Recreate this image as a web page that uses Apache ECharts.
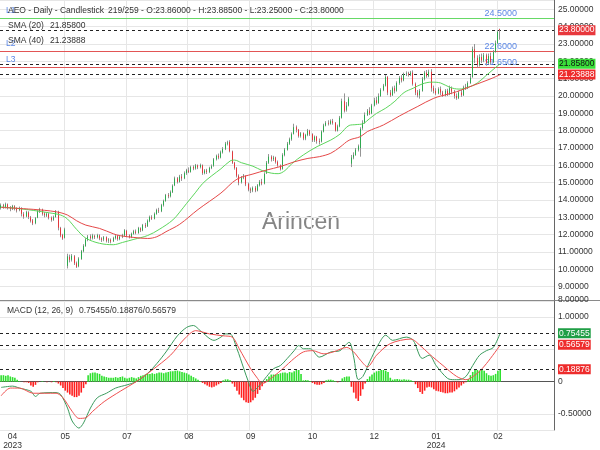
<!DOCTYPE html>
<html><head><meta charset="utf-8">
<script src="https://cdn.jsdelivr.net/npm/echarts@6/dist/echarts.min.js"></script>
<style>html,body{margin:0;padding:0;background:#fff}#c{width:600px;height:450px}</style>
</head><body><div id="c"></div><script>
const symbolName = 'AEO', period = 'Daily', totalBars = 259;
const slotCount = 242;
const categories = Array.from({length: slotCount}, (_, i) => String(i));
const xTickIdx = [5, 28, 55, 82, 109, 136, 163, 190, 217];
const xTickText = ['04\n2023', '05', '07', '08', '09', '10', '12', '01\n2024', '02'];

// [open, close, low, high]
const candles = [
[13.55,13.70,13.45,13.80],[13.70,13.62,13.50,13.78],[13.60,13.75,13.52,13.85],[13.75,13.58,13.45,13.80],[13.55,13.48,13.35,13.65],
[13.50,13.66,13.42,13.72],[13.64,13.52,13.40,13.70],[13.50,13.40,13.28,13.58],[13.42,13.55,13.35,13.62],[13.52,13.20,13.05,13.58],
[13.18,13.05,12.92,13.30],[13.05,13.30,13.00,13.38],[13.28,13.02,12.90,13.35],[13.00,12.80,12.70,13.08],[12.82,12.65,12.55,12.90],
[12.66,12.95,12.60,13.02],[12.98,13.35,12.95,13.42],[13.35,13.48,13.25,13.55],[13.45,13.20,13.10,13.50],[13.22,13.12,13.00,13.30],
[13.10,13.20,13.02,13.28],[13.18,12.98,12.88,13.25],[12.98,12.85,12.75,13.05],[12.86,13.00,12.80,13.10],[13.02,13.35,12.98,13.42],
[13.32,12.40,12.25,13.38],[12.38,11.95,11.85,12.45],[11.98,11.78,11.70,12.05],[11.82,12.30,11.78,12.40],[10.20,10.75,10.05,10.90],
[10.72,10.55,10.40,10.85],[10.55,10.78,10.45,10.88],[10.75,10.35,10.25,10.82],[10.35,10.15,10.08,10.45],[10.18,10.62,10.12,10.70],
[10.60,11.05,10.55,11.12],[11.05,11.35,10.98,11.45],[11.35,11.72,11.30,11.80],[11.70,11.88,11.62,11.98],[11.90,11.80,11.70,12.02],
[11.80,11.95,11.72,12.05],[11.92,11.85,11.75,12.00],[11.85,11.98,11.78,12.05],[11.95,11.78,11.68,12.02],[11.78,11.70,11.58,11.85],
[11.72,11.85,11.62,11.92],[11.85,11.65,11.55,11.90],[11.66,11.72,11.52,11.80],[11.70,11.60,11.50,11.78],[11.62,11.80,11.58,11.88],
[11.80,11.92,11.72,12.02],[11.92,11.75,11.65,11.98],[11.76,11.88,11.68,11.95],[11.88,11.95,11.80,12.05],[11.95,12.25,11.90,12.32],
[12.22,11.95,11.85,12.28],[11.95,11.85,11.78,12.02],[11.86,12.05,11.80,12.12],[12.05,12.20,12.00,12.28],[12.18,12.10,12.02,12.30],
[12.10,12.38,12.05,12.45],[12.36,12.25,12.15,12.42],[12.25,12.55,12.20,12.62],[12.55,12.48,12.38,12.68],[12.48,12.80,12.45,12.88],
[12.80,13.02,12.72,13.10],[13.00,12.92,12.85,13.12],[12.92,13.20,12.88,13.28],[13.20,13.42,13.15,13.50],[13.40,13.35,13.25,13.55],
[13.35,13.70,13.30,13.78],[13.70,13.95,13.62,14.02],[13.95,14.28,13.90,14.35],[14.28,14.22,14.10,14.40],[14.22,14.45,14.15,14.55],
[14.45,14.82,14.40,14.90],[14.85,15.25,14.80,15.35],[15.25,15.05,14.95,15.32],[15.05,15.35,15.00,15.45],[15.35,15.25,15.10,15.50],
[15.25,15.55,15.20,15.65],[15.55,15.72,15.45,15.80],[15.70,15.62,15.55,15.88],[15.62,15.90,15.58,15.98],[15.90,15.82,15.72,16.00],
[15.82,16.00,15.75,16.08],[16.00,15.88,15.78,16.05],[15.90,16.02,15.82,16.10],[16.00,15.55,15.45,16.05],[15.55,15.70,15.48,15.78],
[15.70,15.62,15.50,15.80],[15.62,15.85,15.55,15.92],[15.85,15.95,15.78,16.05],[15.98,16.35,15.92,16.42],[16.35,16.55,16.28,16.62],
[16.55,16.45,16.35,16.68],[16.45,16.75,16.40,16.85],[16.75,16.95,16.68,17.05],[16.95,17.25,16.88,17.35],[17.25,17.32,17.15,17.42],
[17.35,16.82,16.75,17.45],[16.80,16.15,16.08,16.85],[16.15,15.85,15.75,16.20],[15.85,15.40,15.30,15.90],[15.40,15.00,14.85,15.48],
[15.02,15.30,14.95,15.38],[15.30,15.40,15.20,15.50],[15.38,14.90,14.80,15.42],[14.92,14.60,14.50,15.00],[14.62,14.55,14.40,14.72],
[14.55,14.70,14.45,14.78],[14.70,14.55,14.45,14.80],[14.55,14.85,14.50,14.92],[14.85,15.05,14.78,15.15],[15.05,14.95,14.85,15.22],
[14.95,15.50,14.90,15.60],[15.55,16.15,15.50,16.25],[16.15,16.50,16.08,16.65],[16.50,16.35,16.22,16.58],[16.35,16.45,16.25,16.55],
[16.45,16.20,16.10,16.50],[16.20,16.00,15.92,16.28],[16.00,15.78,15.70,16.05],[15.80,16.60,15.75,16.70],[16.60,16.90,16.52,17.00],
[16.90,17.25,16.85,17.35],[17.25,17.50,17.18,17.60],[17.50,17.80,17.42,17.90],[17.82,18.20,17.78,18.40],[18.20,18.05,17.90,18.30],
[18.05,17.70,17.60,18.10],[17.70,17.85,17.60,17.92],[17.85,17.55,17.45,17.90],[17.55,17.75,17.45,17.82],[17.75,18.00,17.68,18.10],
[18.00,17.80,17.70,18.05],[17.80,17.45,17.35,17.85],[17.45,17.65,17.35,17.72],[17.65,17.40,17.25,17.70],[17.40,17.35,17.20,17.55],
[17.38,17.95,17.32,18.02],[17.95,18.30,17.90,18.40],[18.30,18.45,18.25,18.55],[18.45,18.40,18.30,18.60],[18.40,18.55,18.35,18.65],
[18.55,18.45,18.35,18.68],[18.45,18.00,17.95,18.50],[18.00,18.25,17.95,18.35],[18.25,18.75,18.20,18.85],[18.75,19.70,18.70,19.85],
[19.70,19.15,19.05,20.15],[19.20,19.45,19.10,19.65],[19.45,19.85,19.40,19.95],[16.10,16.45,15.90,16.60],[16.45,16.60,16.35,16.75],
[16.60,16.90,16.55,17.00],[16.90,17.10,16.80,17.20],[17.00,18.10,16.50,18.20],[18.15,18.45,18.05,18.60],[18.45,18.90,18.40,19.05],
[18.90,19.15,18.85,19.25],[19.15,19.00,18.90,19.35],[19.00,19.45,18.95,19.55],[19.45,19.75,19.40,19.90],[19.75,19.60,19.50,19.95],
[19.60,20.00,19.55,20.15],[20.00,20.35,19.95,20.45],[20.35,20.60,20.28,20.70],[20.60,21.10,20.55,21.20],[21.10,20.20,20.05,21.15],
[20.20,20.05,19.95,20.35],[20.05,20.45,20.00,20.55],[20.45,20.30,20.15,20.60],[20.30,20.75,20.25,20.85],[20.75,21.05,20.65,21.15],
[21.05,20.90,20.78,21.20],[20.90,21.25,20.85,21.35],[21.25,21.30,21.15,21.42],[21.30,21.22,21.12,21.40],[21.22,21.35,21.15,21.45],
[21.35,20.70,20.60,21.48],[20.70,20.20,20.05,20.78],[20.20,20.05,19.92,20.35],[20.05,20.30,19.85,20.40],[20.30,21.00,20.25,21.10],
[21.00,21.35,20.90,21.45],[21.35,21.15,21.05,21.50],[21.15,21.40,21.08,21.52],[21.40,20.45,20.25,21.55],[20.45,20.30,20.15,20.60],
[20.30,20.15,20.05,20.45],[20.15,20.40,20.10,20.50],[20.40,20.20,20.05,20.55],[20.20,20.05,19.95,20.30],[20.05,20.30,19.98,20.40],
[20.30,20.10,20.00,20.42],[20.10,20.45,20.05,20.60],[20.45,20.25,20.10,20.55],[20.25,20.00,19.85,20.35],[20.00,19.88,19.78,20.15],
[19.88,20.20,19.82,20.30],[20.20,20.05,19.95,20.35],[20.05,20.50,20.00,20.60],[20.50,20.45,20.35,20.70],[20.45,20.75,20.40,20.85],
[20.75,21.05,20.70,21.20],[21.10,22.70,21.05,22.85],[22.70,22.20,21.90,23.00],[22.20,21.80,21.65,22.35],[21.80,22.25,21.70,22.40],
[22.25,22.05,21.90,22.45],[22.05,22.35,21.95,22.48],[22.35,21.90,21.75,22.45],[21.90,22.30,21.85,22.45],[22.30,21.95,21.80,22.50],
[21.95,22.55,21.90,22.65],[22.55,23.05,22.50,23.20],[23.05,23.70,23.00,23.80],[23.86,23.80,23.25,23.885]
];

// [bar index, value]
const sma20Pts = [[0,13.6],[8,13.5],[14,13.4],[21,13.26],[26,13.13],[29,12.9],[33,12.3],[37,11.8],[43,11.5],[49,11.42],[53,11.55],[58,11.73],[64,11.95],[69,12.3],[75,12.85],[78,13.3],[81,13.8],[85,14.45],[88,14.95],[92,15.4],[96,15.8],[100,16.25],[102,16.3],[105,16.15],[110,15.95],[114,15.7],[118,15.55],[121,15.52],[124,15.7],[127,16.1],[132,16.6],[138,17.08],[144,17.46],[148,17.8],[152,18.3],[155,18.35],[158,18.4],[161,18.7],[164,19.0],[168,19.3],[172,19.7],[176,20.2],[180,20.45],[184,20.7],[188,20.8],[192,20.75],[196,20.5],[200,20.4],[204,20.5],[208,20.75],[212,21.2],[216,21.65],[218,21.858]];
const sma40Pts = [[0,13.57],[14,13.46],[24,13.32],[29,13.13],[33,12.8],[37,12.55],[43,12.36],[49,12.05],[52,11.94],[58,11.84],[64,11.78],[68,11.88],[72,12.17],[78,12.6],[86,13.45],[96,14.4],[103,15.2],[110,15.5],[116,15.73],[122,15.93],[128,16.2],[134,16.4],[139,16.5],[144,16.7],[148,17.05],[152,17.45],[157,17.66],[160,17.95],[167,18.33],[174,18.85],[182,19.4],[189,19.87],[195,20.1],[199,20.25],[206,20.6],[214,21.0],[218,21.23888]];

const macdPts = [[0,-0.09],[5,-0.07],[8,-0.10],[13,-0.15],[15,-0.23],[17,-0.18],[24,-0.17],[26,-0.20],[29,-0.41],[31,-0.61],[34,-0.72],[36,-0.64],[39,-0.41],[42,-0.25],[46,-0.18],[50,-0.10],[55,-0.05],[59,0.0],[64,0.13],[68,0.28],[72,0.46],[77,0.71],[81,0.84],[84,0.87],[87,0.79],[93,0.64],[96,0.69],[98,0.74],[100,0.74],[103,0.51],[106,0.20],[108,0.0],[110,-0.15],[113,-0.05],[116,0.08],[119,0.20],[122,0.25],[125,0.36],[128,0.48],[130,0.56],[132,0.51],[135,0.51],[139,0.38],[144,0.46],[148,0.48],[152,0.61],[154,0.38],[156,0.03],[158,0.08],[161,0.31],[165,0.59],[168,0.72],[171,0.64],[177,0.69],[180,0.64],[184,0.36],[187,0.41],[190,0.25],[195,0.05],[198,0.03],[200,0.03],[203,0.08],[206,0.25],[209,0.41],[212,0.48],[215,0.53],[218,0.75455]];
const signalPts = [[0,-0.22],[4,-0.10],[8,-0.10],[14,-0.18],[24,-0.18],[27,-0.25],[31,-0.46],[34,-0.57],[37,-0.56],[40,-0.46],[45,-0.31],[52,-0.15],[59,0.0],[66,0.18],[74,0.41],[80,0.66],[85,0.79],[91,0.74],[97,0.71],[101,0.69],[104,0.51],[109,0.20],[112,0.05],[114,-0.03],[119,0.08],[123,0.20],[128,0.36],[132,0.46],[136,0.48],[141,0.43],[145,0.46],[151,0.53],[154,0.46],[157,0.33],[160,0.23],[164,0.41],[170,0.59],[179,0.66],[183,0.56],[187,0.43],[193,0.25],[199,0.08],[203,0.03],[208,0.13],[212,0.28],[218,0.56579]];
const histogram = [
0.10,0.10,0.09,0.10,0.08,0.07,0.06,0.03,0.01,0.00,
-0.01,-0.01,-0.02,-0.06,-0.08,-0.05,-0.01,0.00,0.01,0.00,
-0.01,0.00,-0.01,0.01,-0.01,-0.03,-0.06,-0.10,-0.14,-0.17,
-0.20,-0.22,-0.24,-0.24,-0.22,-0.17,-0.10,-0.04,0.10,0.13,
0.14,0.14,0.13,0.12,0.09,0.08,0.07,0.06,0.06,0.06,
0.07,0.06,0.07,0.08,0.06,0.05,0.06,0.07,0.06,0.05,
0.07,0.09,0.10,0.11,0.12,0.12,0.13,0.12,0.13,0.14,
0.14,0.13,0.14,0.15,0.16,0.16,0.17,0.17,0.16,0.15,
0.14,0.13,0.11,0.09,0.07,0.05,0.03,0.01,-0.02,-0.04,
-0.06,-0.08,-0.09,-0.08,-0.06,-0.04,-0.02,0.02,0.035,0.035,
0.02,-0.03,-0.08,-0.14,-0.20,-0.25,-0.29,-0.32,-0.33,-0.32,
-0.29,-0.25,-0.19,-0.13,-0.07,-0.02,0.04,0.08,0.11,0.11,
0.11,0.12,0.13,0.14,0.14,0.13,0.15,0.14,0.16,0.18,
0.18,0.12,0.02,0.025,0.02,0.01,-0.02,-0.04,-0.05,-0.05,
-0.04,-0.02,0.02,0.03,0.03,0.02,0.01,-0.01,0.00,0.05,
0.07,0.08,0.08,-0.08,-0.17,-0.26,-0.30,-0.22,-0.12,-0.03,
0.04,0.08,0.11,0.14,0.16,0.17,0.18,0.18,0.17,0.15,
0.06,0.03,0.035,0.04,0.035,0.03,0.035,0.03,0.03,0.02,
0.01,-0.04,-0.10,-0.16,-0.19,-0.14,-0.09,-0.08,-0.09,-0.12,
-0.14,-0.15,-0.16,-0.17,-0.18,-0.18,-0.17,-0.17,-0.15,-0.12,
-0.09,-0.06,-0.03,-0.01,0.04,0.10,0.15,0.18,0.18,0.17,
0.18,0.17,0.13,0.10,0.09,0.10,0.12,0.17,0.18876
];

const levels = [24.5, 22.6, 21.65];
const levelNames = ['L1', 'L2', 'L3'];

// ---- styling / building ----
const FONT = 'Liberation Sans, Arial, Helvetica, sans-serif';
const FS = 8.5;
const levelColors = ['#66d966', '#e25555', '#e25555'];
const upC = '#2fa84f', dnC = '#e2383d', wickC = '#959595';
const fmt5 = v => v.toFixed(5);
const bodies = candles.map(d => [d[0], d[1], Math.min(d[0], d[1]), Math.max(d[0], d[1])]);
const last = candles[candles.length - 1];
const lastOf = pts => pts[pts.length - 1][1];
const sma20Last = lastOf(sma20Pts), sma40Last = lastOf(sma40Pts);
const macdLast = lastOf(macdPts), signalLast = lastOf(signalPts), histLast = histogram[histogram.length - 1];
const splitIdx = xTickIdx.slice(1);

const levelLines = [];
levels.forEach((v, i) => {
  levelLines.push({yAxis: v, lineStyle: {color: levelColors[i], type: 'solid', width: 1},
    label: {show: true, position: 'insideStartTop', formatter: levelNames[i], color: '#5b87e6', fontSize: FS, fontFamily: FONT, distance: [6, 3]}});
  levelLines.push({yAxis: v, lineStyle: {color: 'rgba(0,0,0,0)', width: 1},
    label: {show: true, position: 'insideEndTop', formatter: v.toFixed(4), color: '#5b87e6', fontSize: FS + 0.5, fontFamily: FONT, distance: [3, 0], padding: [0, 34, 0, 0]}});
});
function badge(v, bg, fg) {
  return {yAxis: v, lineStyle: {color: '#222', type: [3, 3], width: 1},
    label: {show: true, position: 'end', formatter: fmt5(v), backgroundColor: bg, color: fg, fontSize: FS, fontFamily: FONT, padding: [1, 1, 0, 1], distance: 4}};
}
const closeUp = last[1] >= last[0];

const texts = [
  {x: 8, y: 11, t: `${symbolName} - ${period} - Candlestick`},
  {x: 108, y: 11, t: `${candles.length}/${totalBars} - O:${fmt5(last[0])} - H:${fmt5(last[3])} - L:${fmt5(last[2])} - C:${fmt5(last[1])}`},
  {x: 8, y: 26, t: 'SMA (20)'}, {x: 50, y: 26, t: fmt5(sma20Last)},
  {x: 8, y: 41, t: 'SMA (40)'}, {x: 50, y: 41, t: fmt5(sma40Last)},
  {x: 7, y: 311, t: 'MACD (12, 26, 9)'},
  {x: 79, y: 311, t: `${fmt5(macdLast)}/${fmt5(histLast)}/${fmt5(signalLast)}`}
];

const chart = echarts.init(document.getElementById('c'), null, {renderer: 'canvas'});
chart.setOption({
  animation: false,
  backgroundColor: '#fff',
  textStyle: {fontFamily: FONT},
  grid: [
    {left: 0, right: 46, top: 0, height: 300},
    {left: 0, right: 46, top: 301, height: 131}
  ],
  xAxis: [
    {gridIndex: 0, type: 'category', data: categories, boundaryGap: true,
      axisLine: {show: true, lineStyle: {color: '#8a8a8a'}}, axisTick: {show: false}, axisLabel: {show: false},
      splitLine: {show: true, interval: (i) => splitIdx.includes(i), lineStyle: {color: '#e6e6e6'}}},
    {gridIndex: 1, type: 'category', data: categories, boundaryGap: true,
      axisLine: {show: true, lineStyle: {color: '#555'}}, axisTick: {show: false},
      axisLabel: {show: true, interval: (i) => xTickIdx.includes(i), formatter: (v, i) => xTickText[xTickIdx.indexOf(i)] || '',
        fontSize: FS, lineHeight: 9, margin: 2, color: '#333', fontFamily: FONT},
      splitLine: {show: true, interval: (i) => splitIdx.includes(i), lineStyle: {color: '#e6e6e6'}}}
  ],
  yAxis: [
    {gridIndex: 0, type: 'value', position: 'right', min: 8.23, max: 25.54, minInterval: 1, maxInterval: 1,
      axisLine: {show: true, lineStyle: {color: '#666'}}, axisTick: {show: false},
      axisLabel: {fontSize: FS, color: '#333', fontFamily: FONT, margin: 4, showMaxLabel: false,
        formatter: v => (v < 8.5 ? 8 : v).toFixed(5)},
      splitLine: {lineStyle: {color: '#e6e6e6'}}},
    {gridIndex: 1, type: 'value', position: 'right', min: -0.75, max: 1.25, minInterval: 0.5, maxInterval: 0.5,
      axisLine: {show: true, lineStyle: {color: '#666'}}, axisTick: {show: false},
      axisLabel: {fontSize: FS, color: '#333', fontFamily: FONT, margin: 4, showMaxLabel: false, showMinLabel: false,
        formatter: v => v === 0 ? '0' : (Math.abs(v - 0.5) < 1e-9 ? '' : v.toFixed(5))},
      splitLine: {lineStyle: {color: '#e6e6e6'}}}
  ],
  graphic: [
    {type: 'text', x: 301, y: 223, z: -10, silent: true,
      style: {text: 'Arincen', font: '23px ' + FONT, fill: '#858585', align: 'center', verticalAlign: 'middle'}},
    {type: 'rect', left: 554, top: 300, silent: true, shape: {width: 46, height: 1}, style: {fill: '#8a8a8a'}},
    ...texts.map(o => ({type: 'text', x: o.x, y: o.y, z: 100, silent: true,
      style: {text: o.t, font: FS + 'px ' + FONT, fill: '#333', verticalAlign: 'middle'}}))
  ],
  series: [
    {type: 'candlestick', xAxisIndex: 0, yAxisIndex: 0, data: candles, barWidth: 1, silent: true, z: 3,
      itemStyle: {color: 'rgba(0,0,0,0)', color0: 'rgba(0,0,0,0)', borderColor: wickC, borderColor0: wickC, borderWidth: 1}},
    {type: 'candlestick', xAxisIndex: 0, yAxisIndex: 0, data: bodies, barWidth: 1, silent: true, z: 4,
      itemStyle: {color: upC, color0: dnC, borderColor: upC, borderColor0: dnC, borderWidth: 1},
      markLine: {symbol: 'none', silent: true, animation: false, z: 1,
        data: [...levelLines,
          badge(last[1], closeUp ? '#2fa84f' : '#e8383d', '#fff'),
          badge(sma20Last, '#3be03b', '#111'),
          badge(sma40Last, '#ee2c2c', '#fff')]}},
    {type: 'line', xAxisIndex: 0, yAxisIndex: 0, data: sma20Pts, smooth: 0.35, symbol: 'none', silent: true, z: 5,
      lineStyle: {color: '#5cd65c', width: 1}},
    {type: 'line', xAxisIndex: 0, yAxisIndex: 0, data: sma40Pts, smooth: 0.35, symbol: 'none', silent: true, z: 5,
      lineStyle: {color: '#e54848', width: 1}},
    {type: 'bar', xAxisIndex: 1, yAxisIndex: 1, data: histogram, barWidth: 1.6, silent: true,
      itemStyle: {color: p => p.value >= 0 ? '#2ee02e' : '#ff1f1f'}},
    {type: 'line', xAxisIndex: 1, yAxisIndex: 1, data: macdPts, smooth: 0.3, symbol: 'none', silent: true,
      lineStyle: {color: '#3a9a5c', width: 1},
      markLine: {symbol: 'none', silent: true, animation: false, z: 10,
        data: [badge(macdLast, '#1f9e45', '#fff'), badge(signalLast, '#ee2c2c', '#fff'), badge(histLast, '#ee2c2c', '#fff')]}},
    {type: 'line', xAxisIndex: 1, yAxisIndex: 1, data: signalPts, smooth: 0.3, symbol: 'none', silent: true,
      lineStyle: {color: '#ef5050', width: 1}}
  ]
});
</script></body></html>
